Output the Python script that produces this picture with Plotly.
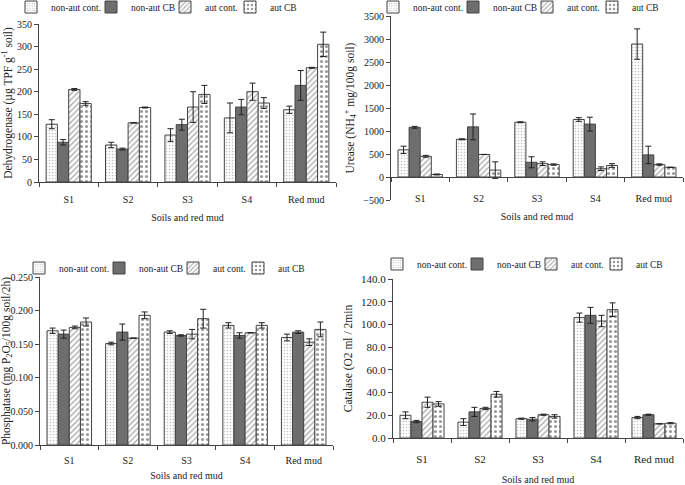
import plotly.graph_objects as go

W, H = 685, 485

categories = ["S1", "S2", "S3", "S4", "Red mud"]
series_names = ["non-aut cont.", "non-aut CB", "aut cont.", "aut CB"]

# Dehydrogenase (µg TPF g-1 soil)
dehyd_vals = [
    [128, 82, 104, 142, 160],
    [88, 73, 127, 166, 214],
    [205, 131, 166, 200, 253],
    [174, 165, 194, 175, 305],
]
dehyd_err = [
    [10, 6, 14, 33, 8],
    [6, 2, 12, 17, 33],
    [2, 0, 34, 19, 1],
    [4, 1, 20, 12, 27],
]

# Urease (NH4+ mg/100g soil)
urease_vals = [
    [590, 820, 1190, 1250, 2890],
    [1080, 1090, 320, 1150, 480],
    [450, 490, 290, 180, 270],
    [55, 150, 270, 250, 210],
]
urease_err = [
    [80, 10, 10, 40, 330],
    [20, 280, 120, 150, 190],
    [20, 0, 40, 40, 15],
    [10, 180, 15, 40, 0],
]

# Phosphatase (mg P2O5/100g soil/2h)
phos_vals = [
    [0.170, 0.151, 0.168, 0.178, 0.160],
    [0.165, 0.168, 0.163, 0.163, 0.168],
    [0.175, 0.159, 0.165, 0.167, 0.153],
    [0.183, 0.193, 0.188, 0.178, 0.172],
]
phos_err = [
    [0.004, 0.002, 0.002, 0.004, 0.005],
    [0.006, 0.012, 0.001, 0.004, 0.002],
    [0.002, 0.000, 0.007, 0.000, 0.005],
    [0.006, 0.005, 0.014, 0.004, 0.011],
]

# Catalase (O2 ml / 2min)
cat_vals = [
    [20.0, 14.0, 17.0, 106.0, 18.0],
    [14.5, 23.0, 16.5, 108.0, 20.5],
    [31.5, 26.0, 20.5, 103.0, 12.5],
    [30.0, 38.5, 19.0, 113.0, 13.0],
]
cat_err = [
    [3.0, 3.0, 0.5, 4.0, 1.0],
    [1.0, 4.0, 1.5, 7.0, 0.5],
    [4.5, 1.0, 0.5, 5.0, 0.0],
    [2.0, 2.5, 1.5, 6.0, 0.5],
]

FONT = "Liberation Serif"
LEG_TEXT_OFFSET = 42


def fx(px):
    return px / W


def fy(py):
    return 1 - py / H


styles = [
    dict(color="white", line=dict(color="#444", width=1),
         pattern=dict(shape=".", fgcolor="#8a8a8a", bgcolor="white", size=3, solidity=0.25)),
    dict(color="#6e6e6e", line=dict(color="#444", width=1)),
    dict(color="white", line=dict(color="#444", width=1),
         pattern=dict(shape="/", fgcolor="#5a5a5a", bgcolor="white", size=4, solidity=0.35)),
    dict(color="white", line=dict(color="#444", width=1),
         pattern=dict(shape=".", fgcolor="#333", bgcolor="white", size=5, solidity=0.3)),
]

panels = [
    dict(vals=dehyd_vals, err=dehyd_err, xd=[39, 336], yd=[182, 24], rng=[0, 350], dt=50, fmt="d",
         title="Dehydrogenase (µg TPF g<sup>-1</sup> soil)",
         legx=[53, 133, 207, 272], legy=7, tls=8, tts=9, tfs=10),
    dict(vals=urease_vals, err=urease_err, xd=[391, 683], yd=[200, 16], rng=[-500, 3500], dt=500, fmt="d",
         title="Urease (NH<sub>4</sub><sup>+</sup> mg/100g soil)",
         legx=[415, 495, 569, 634], legy=7, tls=12, tts=9, tfs=10),
    dict(vals=phos_vals, err=phos_err, xd=[40, 333], yd=[445, 277], rng=[0, 0.25], dt=0.05, fmt=".3f",
         title="Phosphatase (mg P<sub>2</sub>O<sub>5</sub>/100g soil/2h)",
         legx=[61, 141, 215, 280], legy=268, tls=6, tts=6, tfs=10),
    dict(vals=cat_vals, err=cat_err, xd=[393, 683], yd=[438, 279], rng=[0, 140], dt=20, fmt=".1f",
         title="Catalase (O2 ml / 2min",
         legx=[419, 499, 573, 638], legy=264, tls=11, tts=14, tfs=11),
]

fig = go.Figure()
layout = dict(
    width=W, height=H, margin=dict(l=0, r=0, t=0, b=0, autoexpand=False),
    paper_bgcolor="white", plot_bgcolor="white",
    font=dict(family=FONT, size=10, color="#222"),
    barmode="group", bargap=0.24, bargroupgap=0,
    showlegend=True,
)

for i, p in enumerate(panels):
    sfx = "" if i == 0 else str(i + 1)
    xa, ya = "x" + sfx, "y" + sfx
    for s in range(4):
        k = i * 4 + s
        legname = "legend" if k == 0 else "legend" + str(k + 1)
        fig.add_trace(go.Bar(
            x=categories, y=p["vals"][s], name=series_names[s],
            marker=styles[s], xaxis=xa, yaxis=ya, legend=legname,
            error_y=dict(type="data", array=p["err"][s], color="#222", thickness=1, width=3),
            offsetgroup=str(s),
        ))
        layout[legname] = dict(orientation="h", x=fx(p["legx"][s] - LEG_TEXT_OFFSET), y=fy(p["legy"]),
                               xanchor="left", yanchor="middle", font=dict(size=9.5, family=FONT),
                               itemwidth=30, bgcolor="rgba(0,0,0,0)")
    xd = [fx(p["xd"][0]), fx(p["xd"][1])]
    yd = [fy(p["yd"][0]), fy(p["yd"][1])]
    xaxis = dict(domain=xd, anchor=ya, showline=True, linecolor="#444", linewidth=1,
                 ticks="outside", ticklen=4, tickcolor="#444", tickson="boundaries",
                 showgrid=False, tickfont=dict(size=p["tfs"], family=FONT),
                 ticklabelstandoff=p["tls"],
                 title=dict(text="Soils and red mud", font=dict(size=10, family=FONT),
                            standoff=p["tts"]))
    if p["rng"][0] < 0:
        zero_frac = (0 - p["rng"][0]) / (p["rng"][1] - p["rng"][0])
        xaxis.update(anchor="free", position=yd[0] + zero_frac * (yd[1] - yd[0]))
    yaxis = dict(domain=yd, anchor=xa, range=p["rng"], dtick=p["dt"], tick0=p["rng"][0],
                 tickformat=p["fmt"], showline=True, linecolor="#444", linewidth=1,
                 ticks="outside", ticklen=4, tickcolor="#444", showgrid=False, zeroline=False,
                 tickfont=dict(size=p["tfs"], family=FONT),
                 title=dict(text=p["title"], font=dict(size=11.5, family=FONT), standoff=6))
    layout["xaxis" + sfx] = xaxis
    layout["yaxis" + sfx] = yaxis

fig.update_layout(**layout)
fig.write_html("out.html", config={"displayModeBar": False},
               post_script="document.body.style.margin='0px';")
